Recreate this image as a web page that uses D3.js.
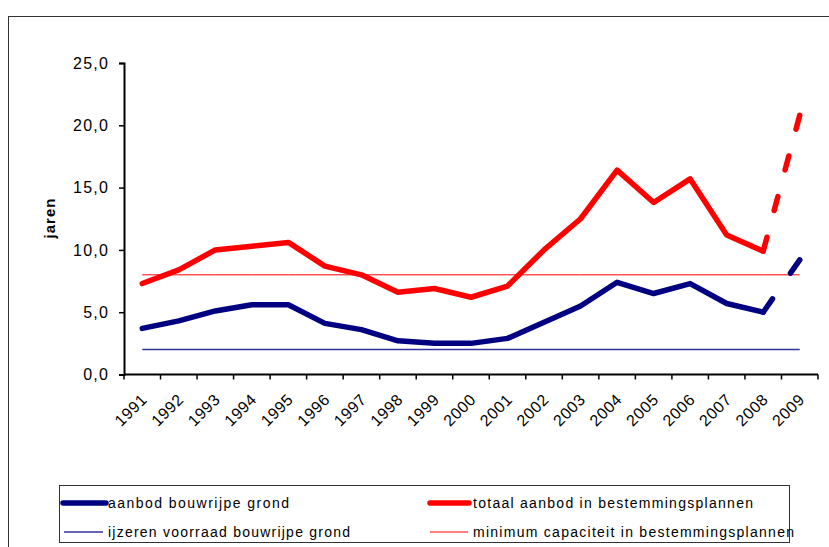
<!DOCTYPE html>
<html>
<head>
<meta charset="utf-8">
<script src="https://cdn.jsdelivr.net/npm/d3@7"></script>
<style>
  html, body { margin: 0; padding: 0; background: #fff; }
  svg { display: block; font-family: Arial, "Liberation Sans", sans-serif; }
</style>
</head>
<body>
<svg id="chart" width="829" height="547"></svg>
<script>
// jaren (years of supply)
const years = ['1991','1992','1993','1994','1995','1996','1997','1998','1999','2000',
               '2001','2002','2003','2004','2005','2006','2007','2008','2009'];
const aanbodBouwrijp = [3.7, 4.3, 5.1, 5.6, 5.6, 4.1, 3.6, 2.7, 2.5, 2.5,
                        2.9, 4.2, 5.5, 7.4, 6.5, 7.3, 5.7, 5.0, 9.2];
const totaalBestemming = [7.3, 8.4, 10.0, 10.3, 10.6, 8.7, 8.0, 6.6, 6.9, 6.2,
                          7.1, 10.0, 12.5, 16.4, 13.8, 15.7, 11.2, 9.9, 20.8];
const ijzerenVoorraad = years.map(() => 2.0);
const minimumCapaciteit = years.map(() => 8.0);
const yTicks = [0, 5, 10, 15, 20, 25];
const prognoseVanaf = '2008'; // last segment is drawn dashed

const seriesNames = [
  'aanbod bouwrijpe grond',
  'totaal aanbod in bestemmingsplannen',
  'ijzeren voorraad bouwrijpe grond',
  'minimum capaciteit in bestemmingsplannen'
];

const svg = d3.select('#chart');
const fmt = d3.formatLocale({ decimal: ',', thousands: '.', grouping: [3], currency: ['€', ''] }).format('.1f');

// outer frame
svg.append('rect').attr('x', 8.5).attr('y', 16.5).attr('width', 900).attr('height', 600)
  .attr('fill', '#fff').attr('stroke', '#333').attr('stroke-width', 1);

const x = d3.scaleBand().domain(years).range([124, 818]);
const y = d3.scaleLinear().domain([0, 25]).range([374.5, 63]);
const cx = d => x(d) + x.bandwidth() / 2;

// y axis
const yAxis = svg.append('g').attr('transform', 'translate(124,0)')
  .call(d3.axisLeft(y).tickValues(yTicks).tickFormat(fmt).tickSize(5).tickPadding(10));
yAxis.select('.domain').attr('stroke', '#000').attr('stroke-width', 2);
yAxis.selectAll('.tick line').attr('stroke', '#000').attr('stroke-width', 1.5);
yAxis.selectAll('.tick text').attr('font-size', 16).attr('letter-spacing', 1.2)
  .attr('fill', '#000').attr('font-family', 'Arial, "Liberation Sans", sans-serif');

// x axis: ticks between categories
const xAxisG = svg.append('g').attr('transform', 'translate(0,374.5)');
xAxisG.append('line').attr('x1', 124).attr('x2', 818).attr('stroke', '#000').attr('stroke-width', 2);
const bounds = years.map(d => x(d)).concat([x(years[years.length - 1]) + x.bandwidth()]);
xAxisG.selectAll('line.tk').data(bounds).enter().append('line').attr('class', 'tk')
  .attr('x1', d => d).attr('x2', d => d).attr('y1', 0).attr('y2', 5)
  .attr('stroke', '#000').attr('stroke-width', 1.5);
xAxisG.selectAll('text').data(years).enter().append('text')
  .attr('transform', d => `translate(${cx(d) + 2},${22}) rotate(-45)`)
  .attr('text-anchor', 'end').attr('dy', '0.35em')
  .attr('font-size', 16).attr('letter-spacing', 0.6).attr('fill', '#000')
  .text(d => d);

// y title
svg.append('text').attr('transform', 'translate(50,218) rotate(-90)')
  .attr('text-anchor', 'middle').attr('dy', '0.35em')
  .attr('font-size', 15).attr('font-weight', 'bold').attr('letter-spacing', 1)
  .text('jaren');

const line = d3.line().x(d => cx(d.year)).y(d => y(d.v));
const pairs = vals => years.map((yr, i) => ({ year: yr, v: vals[i] }));

// thin reference lines
svg.append('path').datum(pairs(ijzerenVoorraad)).attr('d', line)
  .attr('fill', 'none').attr('stroke', '#333399').attr('stroke-width', 1.5);
svg.append('path').datum(pairs(minimumCapaciteit)).attr('d', line)
  .attr('fill', 'none').attr('stroke', '#ff0000').attr('stroke-width', 1);

// thick series: solid up to prognoseVanaf, dashed after
const cut = years.indexOf(prognoseVanaf);
[[aanbodBouwrijp, '#000080'], [totaalBestemming, '#ff0000']].forEach(([vals, col]) => {
  const p = pairs(vals);
  svg.append('path').datum(p.slice(0, cut + 1)).attr('d', line)
    .attr('fill', 'none').attr('stroke', col).attr('stroke-width', 5.5)
    .attr('stroke-linejoin', 'round').attr('stroke-linecap', 'round');
  const dashed = svg.append('path').datum(p.slice(cut)).attr('d', line)
    .attr('fill', 'none').attr('stroke', col).attr('stroke-width', 5.5)
    .attr('stroke-linecap', 'round');
  // stretch the dash pattern so the last dash ends on the final point
  const L = dashed.node().getTotalLength();
  const d0 = 14, g0 = 27;
  const n = Math.max(1, Math.round((L + g0) / (d0 + g0)));
  const k = L / (n * d0 + (n - 1) * g0);
  dashed.attr('stroke-dasharray', `${d0 * k},${g0 * k}`);
});

// legend
svg.append('rect').attr('x', 59.5).attr('y', 485.5).attr('width', 730).attr('height', 57)
  .attr('fill', 'none').attr('stroke', '#333').attr('stroke-width', 1);
const legend = [
  { name: seriesNames[0], col: '#000080', w: 5.5, x1: 63, x2: 106, tx: 108, ty: 503, len: 181 },
  { name: seriesNames[1], col: '#ff0000', w: 5.5, x1: 430, x2: 469, tx: 473, ty: 503, len: 280 },
  { name: seriesNames[2], col: '#333399', w: 1.5, x1: 64, x2: 103, tx: 108, ty: 532, len: 242 },
  { name: seriesNames[3], col: '#ff0000', w: 1, x1: 430, x2: 468, tx: 473, ty: 532, len: 321 }
];
const lg = svg.append('g').selectAll('g').data(legend).enter().append('g');
lg.append('line').attr('x1', d => d.x1).attr('x2', d => d.x2).attr('y1', d => d.ty).attr('y2', d => d.ty)
  .attr('stroke', d => d.col).attr('stroke-width', d => d.w).attr('stroke-linecap', d => d.w > 2 ? 'round' : 'butt');
lg.append('text').attr('x', d => d.tx).attr('y', d => d.ty).attr('dy', '0.35em')
  .attr('font-size', 14).attr('fill', '#000')
  .attr('textLength', d => d.len).attr('lengthAdjust', 'spacing')
  .text(d => d.name);
</script>
</body>
</html>
